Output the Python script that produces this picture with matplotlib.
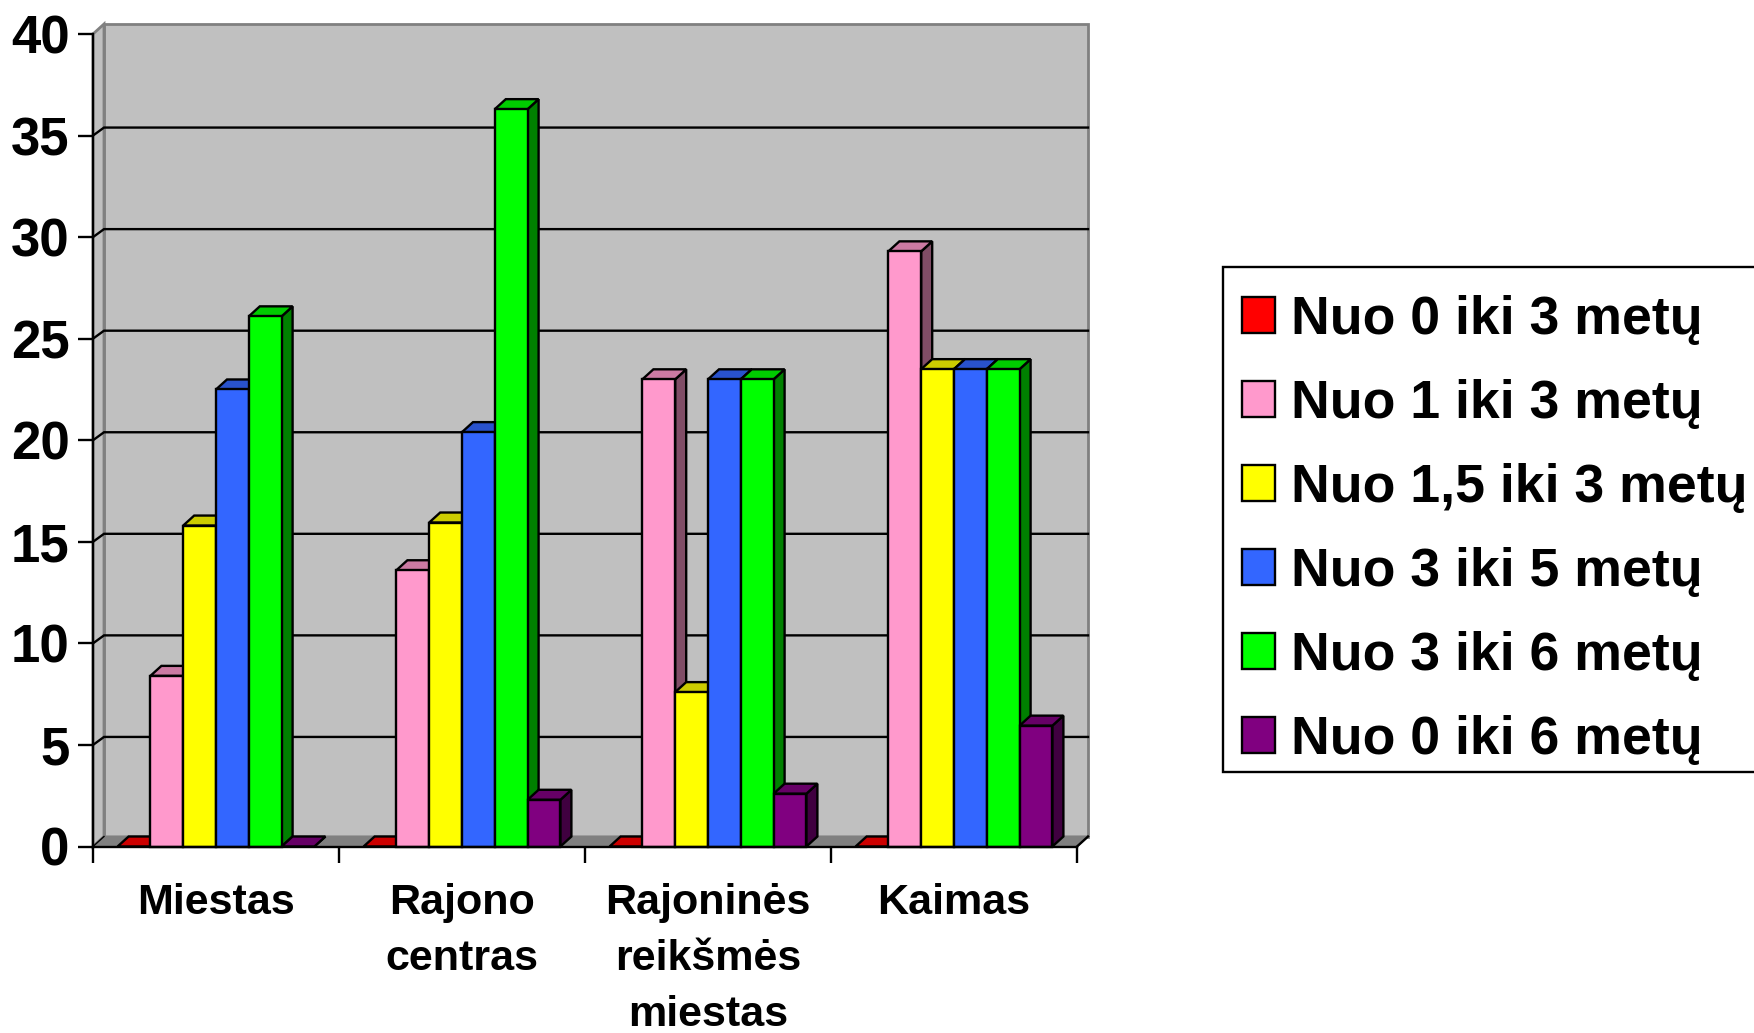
import numpy as np
import matplotlib
matplotlib.use('Agg')
import matplotlib.pyplot as plt
from matplotlib.patches import Patch, Rectangle
from matplotlib.colors import to_rgb

plt.rcParams['font.family'] = ['Liberation Sans', 'DejaVu Sans']
plt.rcParams['font.weight'] = 'bold'

categories = ['Miestas', 'Rajono\ncentras', 'Rajoninės\nreikšmės\nmiestas', 'Kaimas']
series_names = ['Nuo 0 iki 3 metų', 'Nuo 1 iki 3 metų', 'Nuo 1,5 iki 3 metų',
                'Nuo 3 iki 5 metų', 'Nuo 3 iki 6 metų', 'Nuo 0 iki 6 metų']
nuo_0_3 = [0, 0, 0, 0]
nuo_1_3 = [8.4, 13.6, 23.0, 29.3]
nuo_15_3 = [15.8, 15.95, 7.6, 23.5]
nuo_3_5 = [22.5, 20.4, 23.0, 23.5]
nuo_3_6 = [26.1, 36.3, 23.0, 23.5]
nuo_0_6 = [0, 2.3, 2.6, 5.95]
yticks = [0, 5, 10, 15, 20, 25, 30, 35, 40]
colors = ['#FF0000', '#FF99CC', '#FFFF00', '#3366FF', '#00FF00', '#800080']
all_series = [nuo_0_3, nuo_1_3, nuo_15_3, nuo_3_5, nuo_3_6, nuo_0_6]

W, H = 1754, 1033
fig = plt.figure(figsize=(W / 100, H / 100), dpi=100)
# front plane of the chart in pixels
L, R, T, B = 93, 1077, 34, 846.5
ax = fig.add_axes([L / W, 1 - B / H, (R - L) / W, (B - T) / H])
ax.set_xlim(0, len(categories))
ax.set_ylim(0, 40)

# fake 3d depth, pixels -> data
dx = 11 / ((R - L) / len(categories))
dy = 10 / ((B - T) / 40)
grid_dy = 8 / ((B - T) / 40)
lw = 1.7
nocl = dict(clip_on=False, solid_joinstyle='miter')


def shade(c, k):
    return tuple(v * k for v in to_rgb(c))


def quad(xs, ys, fc, ec='k', lw=lw, z=1):
    ax.fill(xs, ys, facecolor=fc, edgecolor=ec, linewidth=lw, clip_on=False,
            joinstyle='miter', zorder=z)


# walls
xmax = len(categories)
quad([dx, xmax + dx, xmax + dx, dx], [dy, dy, 40 + dy, 40 + dy], '#C0C0C0', '#808080', 2, 1)
quad([0, dx, dx, 0], [0, dy, 40 + dy, 40], '#C0C0C0', '#808080', 2, 1)
quad([0, xmax, xmax + dx, dx], [0, 0, dy, dy], '#808080', '#808080', 1.5, 1)
ax.plot([xmax, xmax + dx], [0, dy], color='k', lw=lw, zorder=1.5, **nocl)
ax.plot([0, dx], [0, dy], color='k', lw=1, zorder=1.5, **nocl)

# gridlines on the back wall
for v in yticks[1:-1]:
    ax.plot([0, dx, xmax + dx], [v, v + grid_dy, v + grid_dy], color='k', lw=lw, zorder=1.5, **nocl)

# bars, left to right so that later bars cover the earlier side faces
n = len(all_series)
bw = 1 / (n + 1.5)
margin = 0.75 * bw
z = 2
for i in range(len(categories)):
    for j, vals in enumerate(all_series):
        x0 = i + margin + j * bw
        x1 = x0 + bw
        h = vals[i]
        c = colors[j]
        quad([x1, x1 + dx, x1 + dx, x1], [0, dy, h + dy, h], shade(c, 0.5), z=z)
        quad([x0, x1, x1 + dx, x0 + dx], [h, h, h + dy, h + dy], shade(c, 0.8), z=z)
        if h > 0:
            quad([x0, x1, x1, x0], [0, 0, h, h], c, z=z)
        z += 0.01

for s in ['top', 'right']:
    ax.spines[s].set_visible(False)
for s in ['left', 'bottom']:
    ax.spines[s].set_linewidth(lw)
    ax.spines[s].set_zorder(5)
ax.patch.set_visible(False)

ax.set_yticks(yticks)
ax.set_yticklabels([str(v) for v in yticks], fontsize=38, fontweight='bold')
ax.tick_params(axis='y', length=11, width=lw, pad=6)

ax.set_xticks(range(len(categories) + 1))
ax.set_xticklabels([])
ax.tick_params(axis='x', which='major', length=11.5, width=lw)
ax.set_xticks(np.arange(len(categories)) + 0.5, minor=True)
ax.set_xticklabels(categories, minor=True, fontsize=31.1, fontweight='bold', linespacing=1.52)
ax.tick_params(axis='x', which='minor', length=0, pad=26)

# legend frame runs off the right edge of the picture
fig.add_artist(Rectangle((1223 / W, 1 - 772 / H), 560 / W, 505 / H, transform=fig.transFigure,
                         facecolor='w', edgecolor='k', linewidth=lw))
handles = [Patch(facecolor=c, edgecolor='k', linewidth=lw) for c in colors]
leg = fig.legend(handles, series_names, loc='upper left', bbox_to_anchor=(1242 / W, 1 - 295 / H),
                 bbox_transform=fig.transFigure, borderaxespad=0, fontsize=38.6, frameon=False,
                 handlelength=0.62, handleheight=0.66, handletextpad=0.29, labelspacing=0.635,
                 borderpad=0)
for t in leg.get_texts():
    t.set_fontweight('bold')

fig.savefig('out.png', dpi=100)
